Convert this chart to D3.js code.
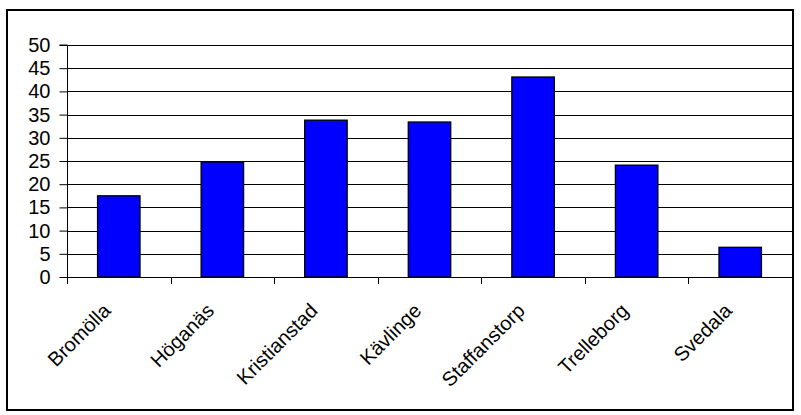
<!DOCTYPE html>
<html><head><meta charset="utf-8">
<script src="https://cdn.jsdelivr.net/npm/d3@7"></script>
<style>body{margin:0;background:#fff}svg{display:block}</style>
</head><body>
<script>
const categories = ["Bromölla","Höganäs","Kristianstad","Kävlinge","Staffanstorp","Trelleborg","Svedala"];
const values = [17.5, 24.8, 33.8, 33.4, 43.1, 24.1, 6.4];
const yTicks = [0,5,10,15,20,25,30,35,40,45,50];

const W = 801, H = 415;
const svg = d3.select("body").append("svg").attr("width", W).attr("height", H);
svg.append("rect").attr("x",7).attr("y",10).attr("width",786).attr("height",400)
  .attr("fill","#fff").attr("stroke","#000").attr("stroke-width",2);

const pLeft = 67, pRight = 792, pTop = 45, pBottom = 277;
const x = d3.scaleBand().domain(categories).range([pLeft, pRight]).paddingInner(0).paddingOuter(0);
const y = d3.scaleLinear().domain([0,50]).range([pBottom, pTop]);
const font = "Liberation Sans, Arial, sans-serif";

// gridlines
svg.append("g").selectAll("line").data(yTicks.filter(d=>d>0)).join("line")
  .attr("x1", pLeft).attr("x2", pRight)
  .attr("y1", d=>Math.round(y(d))+0.5).attr("y2", d=>Math.round(y(d))+0.5)
  .attr("stroke","#000").attr("stroke-width",1);

// bars
const bw = x.bandwidth()*0.41;
svg.append("g").selectAll("rect").data(values).join("rect")
  .attr("x", (d,i)=> x(categories[i]) + x.bandwidth()/2 - bw/2)
  .attr("y", d=>y(d)).attr("width", bw).attr("height", d=>pBottom - y(d))
  .attr("fill","#0000ff").attr("stroke","#000").attr("stroke-width",1.3);

// y axis
const yAxis = d3.axisLeft(y).tickValues(yTicks).tickSize(8).tickPadding(9).tickFormat(d3.format("d"));
const gy = svg.append("g").attr("transform",`translate(${pLeft+0.5},0)`).call(yAxis);
gy.select(".domain").attr("d", `M-8,${y(50)}H0V${pBottom}`).attr("stroke","#000");
gy.selectAll("text").attr("font-family",font).attr("font-size",20).attr("fill","#000");

// x axis
svg.append("line").attr("x1",pLeft).attr("x2",pRight).attr("y1",pBottom+0.5).attr("y2",pBottom+0.5).attr("stroke","#000");
const bounds = categories.map(c=>x(c)).concat([pRight]);
svg.append("g").selectAll("line").data(bounds).join("line")
  .attr("x1",d=>Math.round(d)+0.5).attr("x2",d=>Math.round(d)+0.5)
  .attr("y1",pBottom).attr("y2",pBottom+7).attr("stroke","#000");

svg.append("g").selectAll("text").data(categories).join("text")
  .attr("transform", d=>`translate(${x(d)+x.bandwidth()/2-7},${pBottom+35}) rotate(-45)`)
  .attr("text-anchor","end").attr("font-family",font).attr("font-size",20).attr("fill","#000")
  .text(d=>d);
</script>
</body></html>
